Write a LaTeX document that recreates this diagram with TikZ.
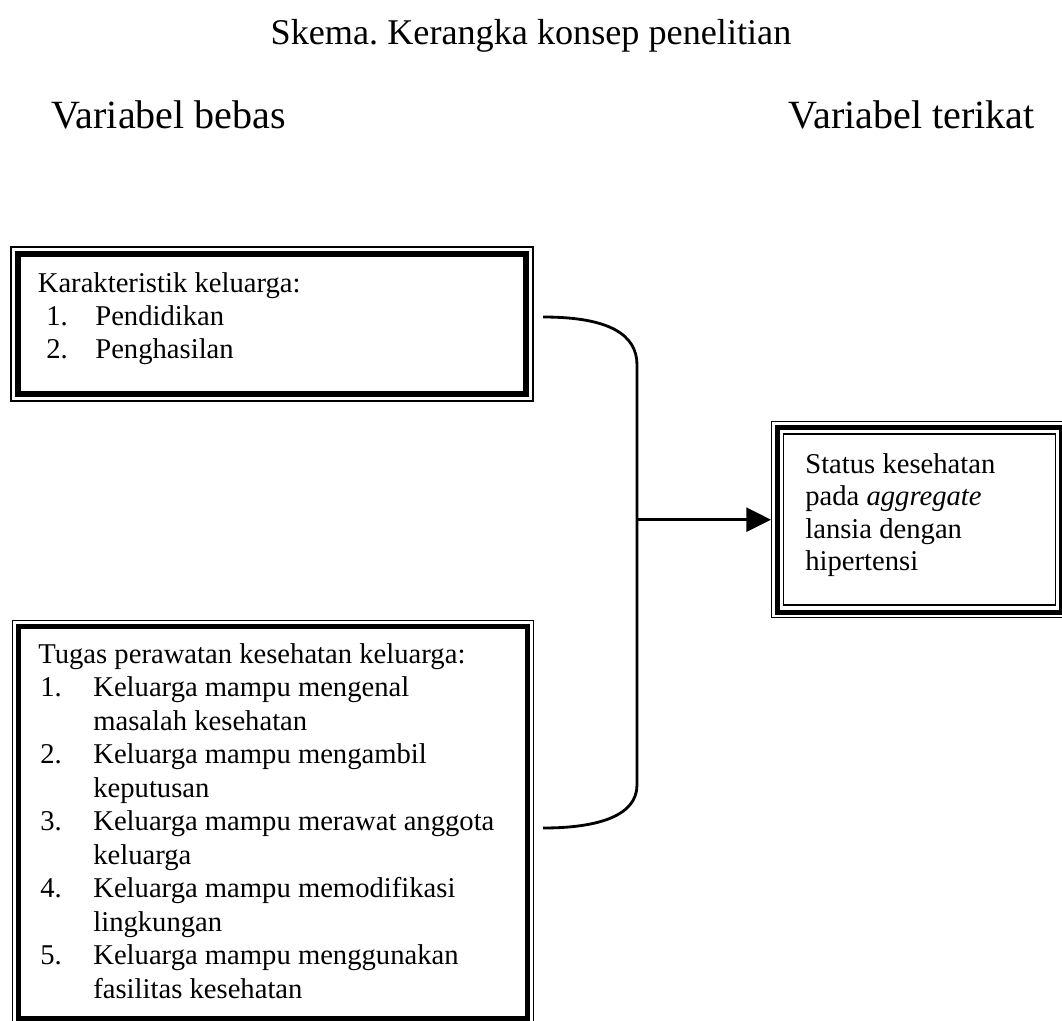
\documentclass[tikz,border=0pt]{standalone}
\usepackage{fontspec}
\setmainfont{Liberation Serif}
\usetikzlibrary{arrows.meta,fit,calc}
\frenchspacing
\begin{document}
\begin{tikzpicture}[x=0.02cm,y=-0.02cm,
  body/.style={font=\fontsize{16.3}{18.7}\selectfont, inner sep=0, anchor=base west},
  head/.style={font=\fontsize{22.8}{26}\selectfont, inner sep=0},
  titletext/.style={font=\fontsize{20.6}{24}\selectfont, inner sep=0},
  frame/.style={draw, line width=0.85pt, inner sep=0},
  heavy/.style={line width=2.9pt},
  heavier/.style={line width=3.6pt},
  lightline/.style={line width=0.85pt},
  link/.style={line width=1.6pt},
  pointer/.style={line width=1.6pt, -{Triangle[length=14pt,width=13.6pt]}}]
\useasboundingbox (0,0) rectangle (1062,1021);

% headings
\node[titletext, anchor=base] (title) at (531,44) {Skema. Kerangka konsep penelitian};
\node[head, anchor=base west] (vb) at (51,128) {Variabel bebas};
\node[head, anchor=base east] (vt) at (1035,128) {Variabel terikat};

% top box
\node[frame, fit={(11,247) (533,401)}] (kbox) {};
\draw[heavier] ([shift={(7.5,7.5)}]kbox.north west) rectangle ([shift={(-7.5,-7.5)}]kbox.south east);
\node[body] (k0) at (37.5,292) {Karakteristik keluarga:};
\node[body] (k1n) at (46,325) {1.};
\node[body] (k1) at (95,325) {Pendidikan};
\node[body] (k2n) at (46,358) {2.};
\node[body] (k2) at (95,358) {Penghasilan};

% bottom box
\node[frame, fit={(12.5,620.3) (533.3,1025)}] (tbox) {};
\draw[heavy] ([shift={(7,7)}]tbox.north west) rectangle ([shift={(-7,-7)}]tbox.south east);
\node[body] (t0) at (38,663) {Tugas perawatan kesehatan keluarga:};
\node[body] (t1n) at (40,696.5) {1.};
\node[body] (t1a) at (93,696.5) {Keluarga mampu mengenal};
\node[body] (t1b) at (93,730) {masalah kesehatan};
\node[body] (t2n) at (40,763.5) {2.};
\node[body] (t2a) at (93,763.5) {Keluarga mampu mengambil};
\node[body] (t2b) at (93,797) {keputusan};
\node[body] (t3n) at (40,830.5) {3.};
\node[body] (t3a) at (93,830.5) {Keluarga mampu merawat anggota};
\node[body] (t3b) at (93,864) {keluarga};
\node[body] (t4n) at (40,897.5) {4.};
\node[body] (t4a) at (93,897.5) {Keluarga mampu memodifikasi};
\node[body] (t4b) at (93,931) {lingkungan};
\node[body] (t5n) at (40,964.5) {5.};
\node[body] (t5a) at (93,964.5) {Keluarga mampu menggunakan};
\node[body] (t5b) at (93,998) {fasilitas kesehatan};

% right box
\node[frame, fit={(771.7,421.7) (1067,617.7)}] (sbox) {};
\draw[heavy] ([shift={(6.3,6.3)}]sbox.north west) rectangle ([shift={(-6.3,-6.3)}]sbox.south east);
\draw[lightline] ([shift={(12.5,13)}]sbox.north west) rectangle ([shift={(-12.5,-13.5)}]sbox.south east);
\node[body] (s1) at (805,473) {Status kesehatan};
\node[body] (s2) at (805,505.5) {pada \textit{aggregate}};
\node[body] (s3) at (805,538) {lansia dengan};
\node[body] (s4) at (805,570.5) {hipertensi};

% connectors
\coordinate (ctop) at (543,317);
\coordinate (cbot) at (543,828);
\coordinate (jn) at (637,519.7);
\draw[link] (ctop) .. controls (610,317) and (637,335) .. (637,365)
  -- (637,785) .. controls (637,815) and (600,828) .. (cbot);
\draw[pointer] (jn) -- (sbox.west);
\end{tikzpicture}
\end{document}
